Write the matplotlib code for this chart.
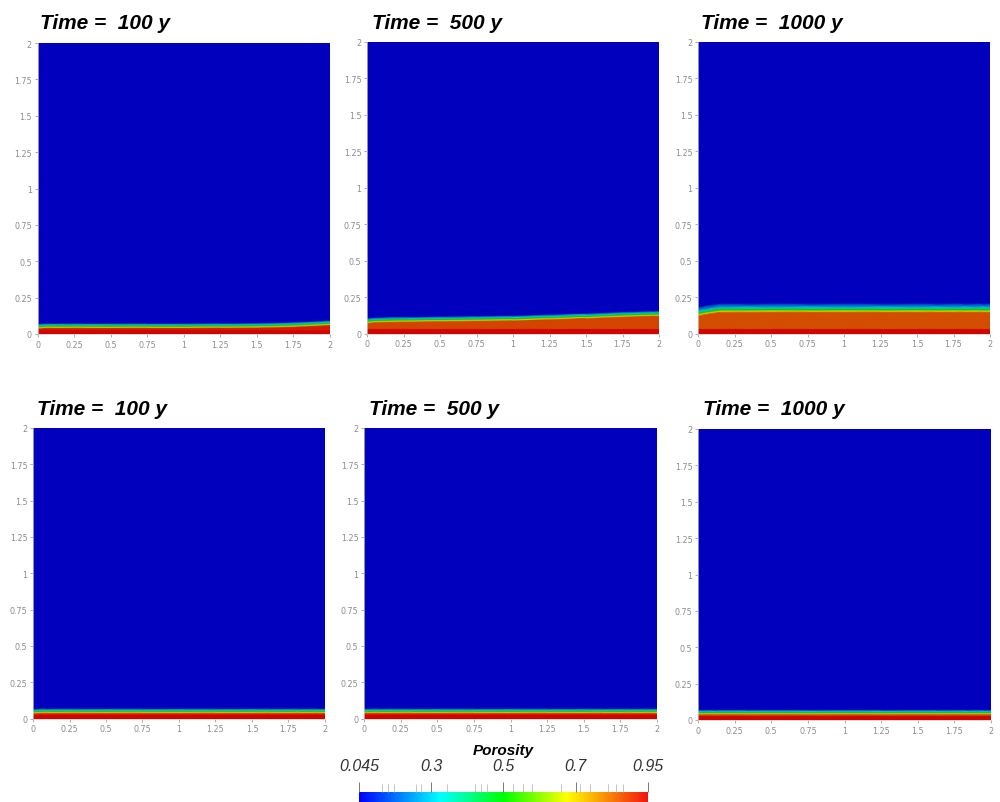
import matplotlib
matplotlib.use("Agg")
import matplotlib.pyplot as plt
import numpy as np
from matplotlib.colors import LinearSegmentedColormap, Normalize
from matplotlib.cm import ScalarMappable

# porosity fronts (height of the top of the red/orange body)
x_nodes = [0.0, 0.05, 0.15, 0.5, 1.0, 1.5, 1.75, 1.9, 2.0]
front_t100 = [0.036, 0.040, 0.040, 0.040, 0.040, 0.042, 0.048, 0.055, 0.060]
front_t500 = [0.070, 0.075, 0.078, 0.082, 0.088, 0.103, 0.113, 0.118, 0.120]
front_t1000 = [0.120, 0.130, 0.144, 0.145, 0.145, 0.145, 0.145, 0.145, 0.145]
front_b100 = [0.034, 0.038, 0.038, 0.038, 0.038, 0.038, 0.038, 0.038, 0.038]
front_b500 = [0.038, 0.038, 0.038, 0.038, 0.038, 0.038, 0.038, 0.038, 0.038]
front_b1000 = [0.038, 0.038, 0.038, 0.038, 0.038, 0.038, 0.038, 0.038, 0.038]

# value of the body below the front, thickness of the dark red bed
core_vals = [0.92, 0.87, 0.86, 0.87, 0.87, 0.87]
bed_thick = [0.025, 0.03, 0.03, 0.028, 0.028, 0.028]
# height above the front where porosity reaches 0.7, 0.5, 0.3, 0.045
trans_t100 = [0.008, 0.016, 0.025, 0.036]
trans_t500 = [0.008, 0.016, 0.025, 0.038]
trans_t1000 = [0.010, 0.020, 0.032, 0.065]
trans_bot = [0.007, 0.014, 0.022, 0.034]
trans_vals = [0.7, 0.5, 0.3, 0.045]

titles = ["Time =  100 y", "Time =  500 y", "Time =  1000 y"]
tick_vals = [0, 0.25, 0.5, 0.75, 1, 1.25, 1.5, 1.75, 2]
tick_text = ["0", "0.25", "0.5", "0.75", "1", "1.25", "1.5", "1.75", "2"]

cb_ticks = [0.045, 0.27125, 0.4975, 0.72375, 0.95]
cb_labels = ["0.045", "0.3", "0.5", "0.7", "0.95"]
cb_minor = [0.116, 0.135, 0.155, 0.222, 0.238, 0.320, 0.408, 0.427, 0.445,
            0.528, 0.559, 0.586, 0.677, 0.737, 0.768, 0.825, 0.849, 0.871]

vmin, vmax = 0.045, 0.95

bar_colors = [(0.0, (0, 0, 1)), (0.28, (0, 1, 1)), (0.5, (0, 1, 0)),
              (0.72, (1, 1, 0)), (1.0, (0.95, 0.08, 0.05))]
cmap_bar = LinearSegmentedColormap.from_list("por", bar_colors)
# the field is rendered with shading, so darker than the bar
field_colors = [(0.0, (0, 0, 0.74)), (0.28, (0, 0.8, 0.82)), (0.5, (0, 0.8, 0)),
                (0.72, (0.84, 0.82, 0)), (1.0, (0.82, 0.02, 0.0))]
cmap_field = LinearSegmentedColormap.from_list("por_dark", field_colors)

W, H = 1000, 803
fig = plt.figure(figsize=(W / 100, H / 100), dpi=100)

# panel boxes in pixels: left, right, top, bottom
boxes = [(37.5, 330, 44, 335), (367, 659, 43, 334.5), (698, 990, 43, 334.5),
         (33, 325, 429, 719.5), (364, 657, 429, 719.5), (698, 991, 430, 721)]
title_pos = [(40, 29), (372, 29), (701, 29), (37, 415), (369, 415), (703, 415)]

fronts = [front_t100, front_t500, front_t1000, front_b100, front_b500, front_b1000]
transs = [trans_t100, trans_t500, trans_t1000, trans_bot, trans_bot, trans_bot]


def build_field(front, trans, core, bed):
    xs = np.array(x_nodes)
    fr = np.array(front)
    rows_y = [np.zeros_like(xs), np.full_like(xs, bed), np.full_like(xs, bed + 0.006), fr]
    rows_v = [0.95, 0.95, core, core]
    for dz, v in zip(trans, trans_vals):
        rows_y.append(fr + dz)
        rows_v.append(v)
    rows_y.append(np.full_like(xs, 2.0))
    rows_v.append(0.045)
    Y = np.vstack(rows_y)
    X = np.tile(xs, (len(rows_y), 1))
    Z = np.tile(np.array(rows_v)[:, None], (1, len(xs)))
    return X, Y, Z


for i, (l, r, t, b) in enumerate(boxes):
    ax = fig.add_axes([l / W, 1 - b / H, (r - l) / W, (b - t) / H])
    X, Y, Z = build_field(fronts[i], transs[i], core_vals[i], bed_thick[i])
    ax.pcolormesh(X, Y, Z, shading="gouraud", cmap=cmap_field, vmin=vmin, vmax=vmax)
    ax.set_xlim(0, 2)
    ax.set_ylim(0, 2)
    ax.set_xticks(tick_vals)
    ax.set_xticklabels(tick_text)
    ax.set_yticks(tick_vals)
    ax.set_yticklabels(tick_text)
    ax.tick_params(labelsize=5.8, colors="#8c8c8c", length=2.5, width=0.5, pad=1.5)
    for s in ["top", "right"]:
        ax.spines[s].set_visible(False)
    for s in ["left", "bottom"]:
        ax.spines[s].set_color("#cccccc")
        ax.spines[s].set_linewidth(0.5)
    tx, ty = title_pos[i]
    fig.text(tx / W, 1 - ty / H, titles[i % 3], fontsize=15, fontweight="bold",
             fontstyle="italic", family="Liberation Sans", va="baseline", ha="left")

# colour bar
cax = fig.add_axes([359 / W, 0, (648 - 359) / W, 10 / H])
sm = ScalarMappable(norm=Normalize(vmin, vmax), cmap=cmap_bar)
cb = fig.colorbar(sm, cax=cax, orientation="horizontal")
cb.outline.set_visible(False)
cax.xaxis.set_ticks_position("top")
cax.set_xticks(cb_ticks)
cax.set_xticklabels(cb_labels)
cax.set_xticks(cb_minor, minor=True)
cax.tick_params(which="major", length=7, width=0.7, colors="#777777", pad=7,
                labelsize=11.5, labelcolor="#333333")
cax.tick_params(which="minor", length=6, width=0.6, colors="#bbbbbb")
for lab in cax.get_xticklabels():
    lab.set_fontstyle("italic")
    lab.set_family("Liberation Sans")
fig.text(503 / W, 1 - 751 / H, "Porosity", fontsize=11, fontweight="bold",
         fontstyle="italic", family="Liberation Sans", ha="center", va="center")

fig.savefig("out.png", dpi=100)
